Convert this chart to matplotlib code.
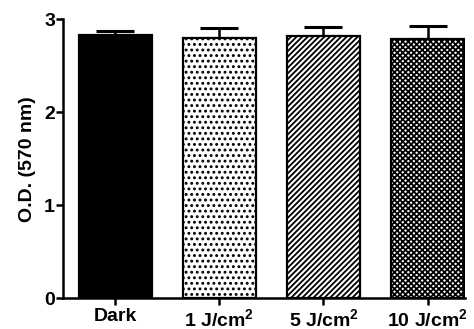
import matplotlib
matplotlib.use("Agg")
import matplotlib.pyplot as plt

plt.rcParams['font.family'] = ['Liberation Sans', 'DejaVu Sans']
plt.rcParams['font.weight'] = 'bold'
plt.rcParams['mathtext.fontset'] = 'custom'
plt.rcParams['mathtext.rm'] = 'Liberation Sans:bold'
plt.rcParams['mathtext.bf'] = 'Liberation Sans:bold'
plt.rcParams['mathtext.default'] = 'rm'
plt.rcParams['hatch.linewidth'] = 1.3

categories = ['Dark', '1 J/cm$^2$', '5 J/cm$^2$', '10 J/cm$^2$']
od_mean = [2.83, 2.80, 2.82, 2.79]
od_sem = [0.04, 0.10, 0.09, 0.13]
hatches = [None, '...', '//////', 'xxxxxx']
faces = ['black', 'white', 'white', 'white']

fig = plt.figure(figsize=(4.74, 3.29), dpi=100)
ax = fig.add_axes([63.3 / 474, (329 - 298.3) / 329, (465 - 63.3) / 474, (298.3 - 19) / 329])

x = list(range(len(categories)))
bars = ax.bar(x, od_mean, width=0.7, color=faces, edgecolor='black', linewidth=1.6, zorder=2)
for b, h in zip(bars, hatches):
    if h:
        b.set_hatch(h)

ax.errorbar(x, od_mean, yerr=[[0] * len(od_sem), od_sem], fmt='none', ecolor='black',
            elinewidth=1.8, capsize=13.5, capthick=2.2, zorder=1)

ax.set_xlim(-0.5, 3.36)
ax.set_ylim(0, 3)
ax.set_yticks([0, 1, 2, 3])
ax.set_xticks(x)
ax.set_xticklabels(categories, fontsize=14, fontweight='bold')
ax.tick_params(axis='y', labelsize=14, width=1.8, length=5, pad=1)
ax.tick_params(axis='x', width=1.8, length=5, pad=2)
ax.set_ylabel('O.D. (570 nm)', fontsize=14, fontweight='bold', labelpad=6)

for s in ['top', 'right']:
    ax.spines[s].set_visible(False)
for s in ['left', 'bottom']:
    ax.spines[s].set_linewidth(1.8)

fig.savefig('out.png', dpi=100)
